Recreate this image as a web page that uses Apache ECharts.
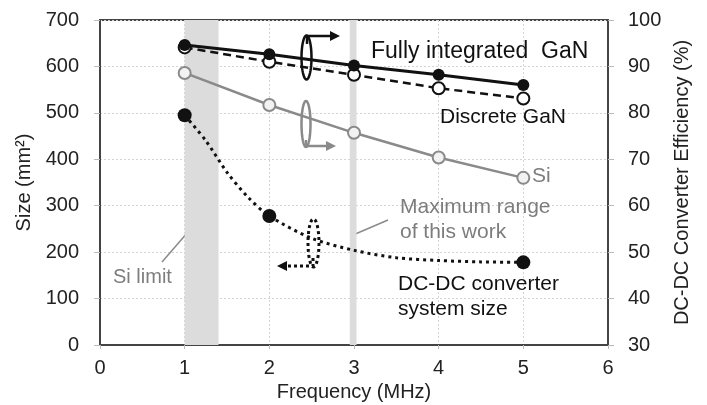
<!DOCTYPE html>
<html>
<head>
<meta charset="utf-8">
<script src="https://cdn.jsdelivr.net/npm/echarts@6/dist/echarts.min.js"></script>
<style>
  html, body { margin: 0; padding: 0; background: #fff; }
  #chart { width: 707px; height: 405px; }
</style>
</head>
<body>
<div id="chart"></div>
<script>
// frequency (MHz)
var freq = [1, 2, 3, 4, 5];
// efficiency (%) - right axis
var fullGaN = [94.6, 92.6, 90.2, 88.2, 86.0];
var discreteGaN = [94.1, 91.0, 88.2, 85.3, 83.1];
var siEff = [88.6, 81.7, 75.7, 70.4, 66.0];
var sizeFreq = [1, 2, 5];
var sizeMeasured = [495, 278, 178];
var sizeCurveFreq = [1, 1.25, 1.5, 1.75, 2, 2.5, 3, 3.5, 4, 4.5, 5];
var sizeCurve = [495, 440, 372, 318, 278, 230, 204, 188, 182, 179, 178];
// shaded frequency bands
var siLimitBand = [1, 1.4];
var maxRangeBand = [2.95, 3.03];
var sizeTicks = [0, 700, 100];
var effTicks = [30, 100, 10];
var freqTicks = [0, 6, 1];

var font = "Liberation Sans";
var grey = "#8a8a8a";
var textGrey = "#7d7d7d";

function pairs(xs, ys) {
  return xs.map(function (x, i) { return [x, ys[i]]; });
}

var chart = echarts.init(document.getElementById("chart"));

var gridLine = { show: true, lineStyle: { color: "#d4d4d4", type: [2, 2], width: 1 } };
var axisLbl = { color: "#222", fontSize: 20, fontFamily: font };
var nameStyle = { color: "#222", fontSize: 20, fontFamily: font };

var option = {
  animation: false,
  backgroundColor: "#fff",
  grid: {
    left: 100, right: 99, top: 20, bottom: 60,
    outerBoundsMode: "none",
    show: true, borderColor: "#444", borderWidth: 2
  },
  xAxis: {
    type: "value",
    min: freqTicks[0], max: freqTicks[1], interval: freqTicks[2],
    name: "Frequency (MHz)",
    nameLocation: "middle",
    nameGap: 35,
    nameTextStyle: nameStyle,
    axisLine: { show: true, lineStyle: { color: "#444", width: 2 } },
    axisTick: { show: true, length: 4, lineStyle: { color: "#bbb" } },
    axisLabel: Object.assign({ margin: 13 }, axisLbl),
    splitLine: gridLine
  },
  yAxis: [
    {
      type: "value",
      min: sizeTicks[0], max: sizeTicks[1], interval: sizeTicks[2],
      name: "Size (mm\u00B2)",
      nameLocation: "middle",
      nameGap: 56,
      nameTextStyle: nameStyle,
      axisLine: { show: true, lineStyle: { color: "#444", width: 2 } },
      axisTick: { show: true, length: 6, lineStyle: { color: "#bbb" } },
      axisLabel: Object.assign({ margin: 21 }, axisLbl),
      splitLine: gridLine
    },
    {
      type: "value",
      position: "right",
      min: effTicks[0], max: effTicks[1], interval: effTicks[2],
      name: "DC-DC Converter Efficiency (%)",
      nameLocation: "middle",
      nameGap: 64,
      nameTextStyle: nameStyle,
      axisLine: { show: true, lineStyle: { color: "#444", width: 2 } },
      axisTick: { show: true, length: 6, lineStyle: { color: "#bbb" } },
      axisLabel: Object.assign({ margin: 20 }, axisLbl),
      splitLine: { show: false }
    }
  ],
  series: [
    {
      name: "bands",
      type: "line",
      data: [],
      z: 1,
      markArea: {
        silent: true,
        itemStyle: { color: "#dcdcdc" },
        data: [
          [{ xAxis: siLimitBand[0] }, { xAxis: siLimitBand[1] }],
          [{ xAxis: maxRangeBand[0] }, { xAxis: maxRangeBand[1] }]
        ]
      }
    },
    {
      name: "Si",
      type: "line",
      yAxisIndex: 1,
      data: pairs(freq, siEff),
      symbol: "circle",
      symbolSize: 12,
      lineStyle: { color: grey, width: 2.5 },
      itemStyle: { color: "#f2f2f2", borderColor: grey, borderWidth: 2 },
      z: 3
    },
    {
      name: "Discrete GaN",
      type: "line",
      yAxisIndex: 1,
      data: pairs(freq, discreteGaN),
      symbol: "circle",
      symbolSize: 12,
      lineStyle: { color: "#111", width: 2.5, type: [8, 5] },
      itemStyle: { color: "#fff", borderColor: "#111", borderWidth: 2 },
      z: 4
    },
    {
      name: "Fully integrated GaN",
      type: "line",
      yAxisIndex: 1,
      data: pairs(freq, fullGaN),
      symbol: "circle",
      symbolSize: 12,
      lineStyle: { color: "#111", width: 3 },
      itemStyle: { color: "#111" },
      z: 5
    },
    {
      name: "size trend",
      type: "line",
      yAxisIndex: 0,
      smooth: 0.3,
      data: pairs(sizeCurveFreq, sizeCurve),
      symbol: "none",
      lineStyle: { color: "#111", width: 3, type: [3, 4] },
      z: 4
    },
    {
      name: "DC-DC converter system size",
      type: "scatter",
      yAxisIndex: 0,
      data: pairs(sizeFreq, sizeMeasured),
      symbolSize: 14,
      itemStyle: { color: "#111", opacity: 1 },
      z: 5
    }
  ]
};

chart.setOption(option);

function ellipsePts(cx, cy, rx, ry) {
  var pts = [];
  for (var i = 0; i <= 48; i++) {
    var a = (i / 48) * Math.PI * 2;
    pts.push([cx + rx * Math.cos(a), cy + ry * Math.sin(a)]);
  }
  return pts;
}

function arrowHead(x, y, dir, color) {
  // dir: 1 = right, -1 = left
  return {
    type: "polygon",
    shape: { points: [[x, y], [x - dir * 10, y - 5], [x - dir * 10, y + 5]] },
    style: { fill: color }
  };
}

function label(text, x, y, color, size) {
  return {
    type: "text",
    style: {
      text: text, x: x, y: y, fill: color,
      fontSize: size, fontFamily: font,
      align: "left", verticalAlign: "middle", lineHeight: 25
    }
  };
}

var graphics = [
  // efficiency brackets -> right axis
  { type: "polyline", shape: { points: ellipsePts(306.5, 57.5, 5, 22) }, style: { stroke: "#111", lineWidth: 2.5, fill: null } },
  { type: "polyline", shape: { points: [[307, 44], [307, 36], [332, 36]] }, style: { stroke: "#111", lineWidth: 2.5, fill: null } },
  arrowHead(340, 36, 1, "#111"),
  { type: "polyline", shape: { points: ellipsePts(306, 124, 4.5, 23) }, style: { stroke: grey, lineWidth: 2.5, fill: null } },
  { type: "polyline", shape: { points: [[306, 140], [306, 146], [328, 146]] }, style: { stroke: grey, lineWidth: 2.5, fill: null } },
  arrowHead(336, 146, 1, grey),
  // size bracket -> left axis
  { type: "polyline", shape: { points: ellipsePts(313.5, 243, 5.5, 24) }, style: { stroke: "#111", lineWidth: 3, lineDash: [3, 3], fill: null } },
  { type: "polyline", shape: { points: [[313, 258], [313, 266], [286, 266]] }, style: { stroke: "#111", lineWidth: 3, lineDash: [3, 3], fill: null } },
  arrowHead(277, 266, -1, "#111"),
  // leader lines
  { type: "line", shape: { x1: 162, y1: 262, x2: 188, y2: 232 }, style: { stroke: grey, lineWidth: 1.5 } },
  { type: "line", shape: { x1: 353, y1: 235, x2: 388, y2: 220 }, style: { stroke: grey, lineWidth: 1.5 } },
  // labels
  label("Fully integrated  GaN", 371, 52, "#111", 23),
  label("Discrete GaN", 440, 117, "#111", 21),
  label("Si", 532, 176, textGrey, 21),
  label("Si limit", 113, 277, textGrey, 20),
  label("Maximum range\nof this work", 400, 220, textGrey, 21),
  label("DC-DC converter\nsystem size", 398, 297, "#111", 21)
];

chart.setOption({ graphic: { elements: graphics } });
</script>
</body>
</html>
